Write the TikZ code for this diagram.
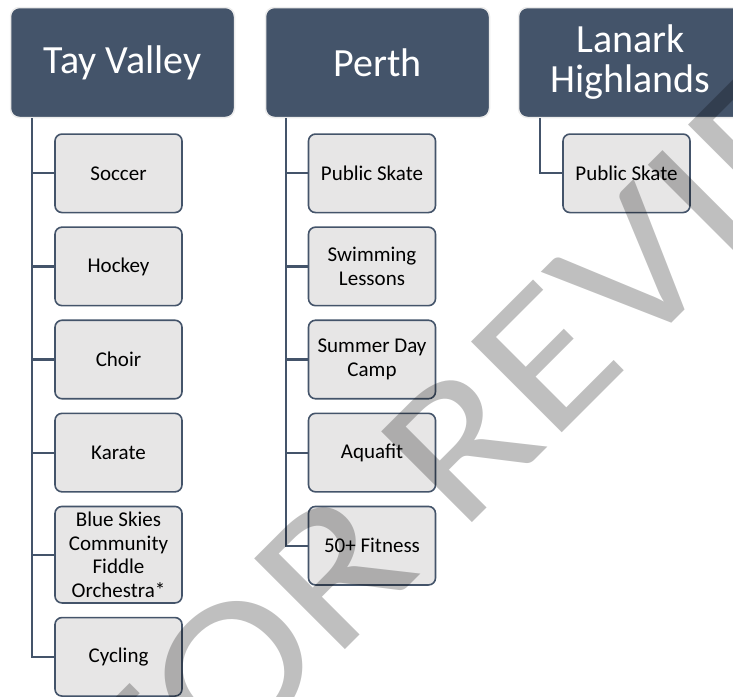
\documentclass[tikz,border=0pt]{standalone}
\usepackage{fontspec}
\setmainfont{Carlito}
\usetikzlibrary{positioning, calc}

\definecolor{slate}{HTML}{44546A}
\definecolor{tilegray}{HTML}{E7E6E6}

\begin{document}
\begin{tikzpicture}[
    x=1pt, y=-1pt,
    node distance=13pt,
    header/.style={draw=gray!15, line width=1.5pt, fill=slate, rounded corners=9pt, minimum width=224pt, minimum height=110pt, align=center, text=white, font=\fontsize{40}{40}\selectfont, inner sep=2pt},
    item/.style={draw=slate, line width=1.6pt, fill=tilegray, rounded corners=7pt, minimum width=127pt, minimum height=78.5pt, align=center, font=\fontsize{21}{23.5}\selectfont, inner sep=2pt},
    link/.style={draw=slate, line width=2.2pt},
    watermark/.style={text=black, text opacity=0.25, font=\fontsize{200}{200}\selectfont, inner sep=0pt}
]
\useasboundingbox (0,0) rectangle (733,696);

% Column 1: Tay Valley
\node[header] (tay) at (122.5,62.5) {Tay Valley};
\node[item, below=15pt of tay, xshift=-4pt] (tv1) {Soccer};
\node[item, below=of tv1] (tv2) {Hockey};
\node[item, below=of tv2] (tv3) {Choir};
\node[item, below=of tv3] (tv4) {Karate};
\node[item, below=of tv4, minimum height=96.5pt] (tv5) {Blue Skies\\Community\\Fiddle\\Orchestra*};
\node[item, below=of tv5] (tv6) {Cycling};

% Column 2: Perth
\node[header] (perth) at (377.5,62.5) {Perth};
\node[item, below=15pt of perth, xshift=-5.5pt] (pe1) {Public Skate};
\node[item, below=of pe1] (pe2) {Swimming\\Lessons};
\node[item, below=of pe2] (pe3) {Summer Day\\Camp};
\node[item, below=of pe3] (pe4) {Aquafit};
\node[item, below=of pe4] (pe5) {50+ Fitness};

% Column 3: Lanark Highlands
\node[header] (lanark) at (630.5,62.5) {Lanark\\Highlands};
\node[item, below=15pt of lanark, xshift=-4pt] (la1) {Public Skate};

% Trunks
\coordinate (taytrunk) at ($(tay.south west)+(22,0)$);
\coordinate (perthtrunk) at ($(perth.south west)+(21,0)$);
\coordinate (lanarktrunk) at ($(lanark.south west)+(22,0)$);

% Connections
\draw[link] (taytrunk) |- (tv6.west);
\foreach \i in {1,...,5}
  \draw[link] (taytrunk |- tv\i.west) -- (tv\i.west);
\draw[link] (perthtrunk) |- (pe5.west);
\foreach \i in {1,...,4}
  \draw[link] (perthtrunk |- pe\i.west) -- (pe\i.west);
\draw[link] (lanarktrunk) |- (la1.west);

% Watermark
\node[watermark, anchor=base, rotate=45, xscale=1.17] (wm) at (572.5,422.5) {FOR REVIEW};

\end{tikzpicture}
\end{document}
